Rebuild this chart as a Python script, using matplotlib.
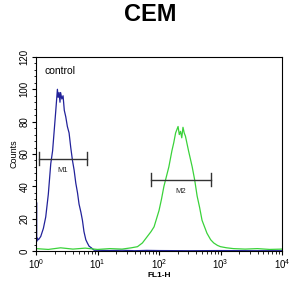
import numpy as np
import matplotlib.pyplot as plt
from matplotlib.ticker import LogLocator, MultipleLocator, NullFormatter

plt.rcParams['font.family'] = ['Liberation Sans', 'DejaVu Sans']

# histogram traces, x as log10(FL1-H), y as counts
ctrl_logx = [0.0, 0.003, 0.006, 0.009, 0.012, 0.02, 0.04, 0.077, 0.12, 0.158, 0.2, 0.24,
             0.27, 0.293, 0.32, 0.348, 0.36, 0.375, 0.39, 0.40, 0.42, 0.44, 0.46, 0.484,
             0.51, 0.538, 0.565, 0.593, 0.62, 0.647, 0.675, 0.70, 0.73, 0.755, 0.78,
             0.81, 0.835, 0.863, 0.9, 0.945, 1.0, 1.2, 1.4, 1.6, 1.8, 2.0, 2.5, 3.0,
             3.5, 4.0]
ctrl_counts = [8, 38, 12, 30, 6, 8, 7, 9, 14, 21, 35, 54, 62, 73, 86, 100, 95, 98, 92,
               98, 94, 96, 87, 83, 77, 73, 64, 56, 50, 42, 36, 29, 24, 19, 12, 7, 5,
               3, 2, 0.5, 0.5, 0.3, 0.5, 0.2, 0.4, 0.3, 0.2, 0.3, 0.2, 0.2]

samp_logx = [0.0, 0.2, 0.4, 0.6, 0.8, 1.0, 1.2, 1.4, 1.55, 1.65, 1.73, 1.81, 1.87,
             1.92, 1.96, 2.0, 2.04, 2.08, 2.12, 2.16, 2.21, 2.24, 2.27, 2.31, 2.33,
             2.35, 2.37, 2.39, 2.41, 2.43, 2.48, 2.54, 2.58, 2.62, 2.66, 2.70, 2.74,
             2.78, 2.84, 2.89, 2.95, 3.0, 3.1, 3.21, 3.4, 3.6, 3.8, 4.0]
samp_counts = [1.5, 1.0, 2.0, 1.2, 1.8, 1.0, 1.5, 1.2, 2.0, 2.7, 5, 9, 12, 15, 20, 25,
               32, 40, 46, 52, 62, 67, 73, 77, 72, 74, 70, 76.5, 73, 71, 62, 52, 44, 34,
               27, 19, 15, 11, 7, 5, 3.5, 2.7, 2.0, 1.5, 1.2, 1.5, 1.0, 1.2]

# marker gates: (left log10, right log10, level, label)
gates = [(0.05, 0.825, 57, 'M1'), (1.87, 2.85, 44, 'M2')]

fig = plt.figure(figsize=(3.0, 2.95), dpi=100)
ax = fig.add_axes([0.12, 0.149, 0.82, 0.658])

ax.plot(10 ** np.array(ctrl_logx), ctrl_counts, color='#22229a', lw=0.9)
ax.plot(10 ** np.array(samp_logx), samp_counts, color='#3ad23a', lw=0.9)

for lo, hi, lvl, name in gates:
    ax.plot([10 ** lo, 10 ** hi], [lvl, lvl], color='#333333', lw=1)
    for e in (lo, hi):
        ax.plot([10 ** e, 10 ** e], [lvl - 4, lvl + 4], color='#333333', lw=1)
    mid = 10 ** ((lo + hi) / 2)
    ax.text(mid, lvl - 5, name, fontsize=5.5, ha='center', va='top', color='#222222')

ax.text(10 ** 0.14, 111, 'control', fontsize=7.5, ha='left', va='center')

ax.set_xscale('log')
ax.set_xlim(1, 1e4)
ax.set_ylim(0, 120)
ax.yaxis.set_major_locator(MultipleLocator(20))
ax.yaxis.set_minor_locator(MultipleLocator(4))
ax.xaxis.set_major_locator(LogLocator(base=10, numticks=10))
ax.xaxis.set_minor_locator(LogLocator(base=10, subs=np.arange(2, 10), numticks=10))
ax.xaxis.set_minor_formatter(NullFormatter())
ax.tick_params(axis='both', which='major', labelsize=7, length=3, width=0.8, pad=1.5)
ax.tick_params(axis='both', which='minor', length=1.8, width=0.6)
plt.setp(ax.get_yticklabels(), rotation=90, va='center')
for s in ax.spines.values():
    s.set_linewidth(0.8)

ax.set_ylabel('Counts', fontsize=6.5, labelpad=1)
ax.set_xlabel('FL1-H', fontsize=6, fontweight='bold', labelpad=1)
fig.text(0.5, 0.95, 'CEM', fontsize=17, fontweight='bold', ha='center', va='center')

fig.savefig('out.png', dpi=100)
